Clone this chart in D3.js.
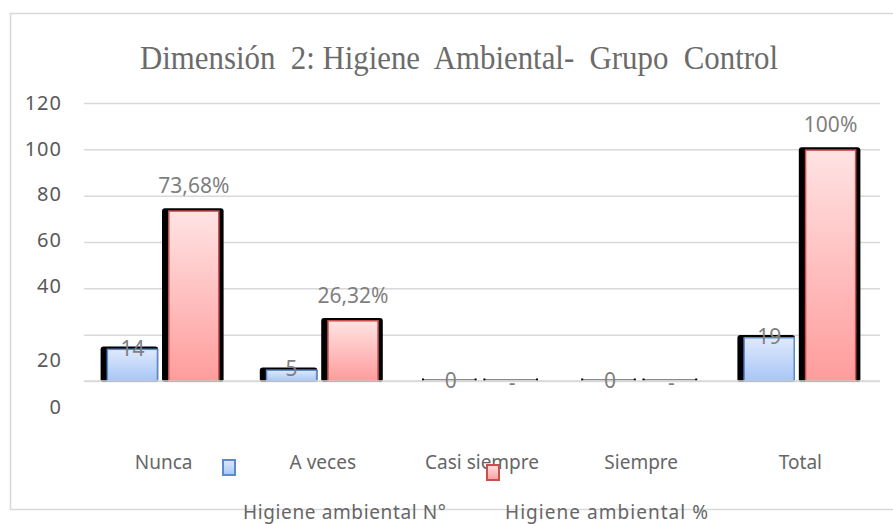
<!DOCTYPE html>
<html>
<head>
<meta charset="utf-8">
<script src="https://cdn.jsdelivr.net/npm/d3@7"></script>
<style>
  body { margin: 0; background: #fff; }
  svg { display: block; }
</style>
</head>
<body>
<svg id="chart" width="893" height="524"></svg>
<script>
// chart values
const categories = ["Nunca", "A veces", "Casi siempre", "Siempre", "Total"];
const countValues = [14, 5, 0, 0, 19];
const percentValues = [73.68, 26.32, 0, 0, 100];
const percentLabels = ["73,68%", "26,32%", "-", "-", "100%"];
const yTicks = [0, 20, 40, 60, 80, 100, 120];
const seriesNames = ["Higiene ambiental N°", "Higiene ambiental %"];

const svg = d3.select("#chart");
const defs = svg.append("defs");

// gradients for the two series
function addGradient(id, top, bottom) {
    const g = defs.append("linearGradient")
        .attr("id", id)
        .attr("x1", 0).attr("y1", 0)
        .attr("x2", 0).attr("y2", 1);
    g.append("stop").attr("offset", "0%").attr("stop-color", top);
    g.append("stop").attr("offset", "100%").attr("stop-color", bottom);
}
addGradient("gradBlue", "#dfe9fc", "#a8c6f6");
addGradient("gradRed", "#ffe3e3", "#ff9c9c");

const seriesStyle = [
    { fill: "url(#gradBlue)", stroke: "#5b8ad0", extra: 0 },
    { fill: "url(#gradRed)", stroke: "#c9504d", extra: 4 }
];

// outer border
svg.append("rect")
    .attr("x", 10.5).attr("y", 13.5)
    .attr("width", 900).attr("height", 496)
    .attr("fill", "none")
    .attr("stroke", "#d9d9d9")
    .attr("stroke-width", 1.5);

// title
svg.append("text")
    .attr("x", 459)
    .attr("y", 69)
    .attr("text-anchor", "middle")
    .attr("font-family", "Liberation Serif, serif")
    .attr("font-size", 34)
    .attr("fill", "#6b6b6b")
    .attr("textLength", 638)
    .attr("lengthAdjust", "spacingAndGlyphs")
    .style("white-space", "pre")
    .text("Dimensión  2: Higiene  Ambiental-  Grupo  Control");

// scales
const x0 = d3.scaleBand().domain(categories).range([84, 880]);
const x1 = d3.scaleBand().domain([0, 1]).range([-57, 56]).paddingInner(0.16);
const y = d3.scaleLinear().domain([0, 120]).range([381, 103]);
// tick labels are drawn a little off their gridlines in the original
const yLabel = d3.scaleLinear().domain([0, 20, 40, 120]).range([407, 360, 286, 103]);

// gridlines
const grid = svg.append("g")
    .attr("transform", "translate(84,0)")
    .call(d3.axisLeft(y).tickValues(yTicks).tickSize(-796).tickFormat(""));
grid.select(".domain").remove();
grid.selectAll(".tick line")
    .attr("stroke", "#d9d9d9")
    .attr("stroke-width", 1.5);

// y tick labels
const yAxis = svg.append("g")
    .attr("transform", "translate(62,0)")
    .call(d3.axisLeft(yLabel).tickValues(yTicks).tickSize(0).tickPadding(0));
yAxis.select(".domain").remove();
yAxis.selectAll("text")
    .attr("font-family", "Noto Sans, sans-serif")
    .attr("font-size", 20)
    .attr("letter-spacing", 1)
    .attr("fill", "#595959");

// bars
const seriesValues = [countValues, percentValues];
seriesValues.forEach((vals, s) => {
    const st = seriesStyle[s];
    const g = svg.append("g");
    vals.forEach((v, i) => {
        const bx = x0(categories[i]) + x0.bandwidth() / 2 + x1(s);
        const bw = x1.bandwidth();
        const top = y(v);
        const h = y(0) - top;
        if (v > 0) {
            // dark shadow behind the bar
            g.append("rect")
                .attr("x", bx - 6)
                .attr("y", top - 2)
                .attr("width", bw + 6 + st.extra)
                .attr("height", h + 3)
                .attr("rx", 3)
                .attr("fill", "#000");
            g.append("rect")
                .attr("x", bx + 0.75)
                .attr("y", top + 0.75)
                .attr("width", bw - 1.5)
                .attr("height", h - 0.75)
                .attr("fill", st.fill)
                .attr("stroke", st.stroke)
                .attr("stroke-width", 1.5);
        } else {
            // flat bar: thin grey line with dark ends
            g.append("rect")
                .attr("x", bx - 3)
                .attr("y", top - 2)
                .attr("width", bw + 3)
                .attr("height", 1.5)
                .attr("fill", "#8c8c8c");
            [bx - 3, bx + bw - 2].forEach(ex => {
                g.append("rect")
                    .attr("x", ex)
                    .attr("y", top - 2.5)
                    .attr("width", 2)
                    .attr("height", 2.5)
                    .attr("fill", "#000");
            });
        }
    });
});

// baseline
svg.append("line")
    .attr("x1", 84).attr("x2", 880)
    .attr("y1", y(0)).attr("y2", y(0))
    .attr("stroke", "#d9d9d9")
    .attr("stroke-width", 1.5);

// data labels
const labelFont = { family: "Noto Sans, sans-serif", size: 21, color: "#7f7f7f" };
countValues.forEach((v, i) => {
    svg.append("text")
        .attr("x", x0(categories[i]) + x0.bandwidth() / 2 + x1(0) + x1.bandwidth() / 2)
        .attr("y", y(v) + 7)
        .attr("text-anchor", "middle")
        .attr("font-family", labelFont.family)
        .attr("font-size", labelFont.size)
        .attr("fill", labelFont.color)
        .text(v);
});
percentValues.forEach((v, i) => {
    svg.append("text")
        .attr("x", x0(categories[i]) + x0.bandwidth() / 2 + x1(1) + x1.bandwidth() / 2)
        .attr("y", v > 0 ? y(v) - 17 : y(v) + 9)
        .attr("text-anchor", "middle")
        .attr("font-family", labelFont.family)
        .attr("font-size", labelFont.size)
        .attr("fill", labelFont.color)
        .text(percentLabels[i]);
});

// category labels
const xAxis = svg.append("g")
    .attr("transform", "translate(0,462)")
    .call(d3.axisBottom(x0).tickSize(0).tickPadding(0));
xAxis.select(".domain").remove();
xAxis.selectAll("text")
    .attr("dy", "0.35em")
    .attr("font-family", "Noto Sans, sans-serif")
    .attr("font-size", 19)
    .attr("fill", "#666666");

// legend: markers sit in the label row, names below the frame
const legendMarks = [{ x: 222, y: 459 }, { x: 486, y: 464 }];
const legendText = [{ x: 243 }, { x: 505 }];
seriesNames.forEach((name, s) => {
    svg.append("rect")
        .attr("x", legendMarks[s].x + 1)
        .attr("y", legendMarks[s].y + 1)
        .attr("width", 12)
        .attr("height", 15)
        .attr("fill", seriesStyle[s].fill)
        .attr("stroke", seriesStyle[s].stroke)
        .attr("stroke-width", 2);
    svg.append("text")
        .attr("x", legendText[s].x)
        .attr("y", 519)
        .attr("font-family", "Noto Sans, sans-serif")
        .attr("font-size", 19)
        .attr("textLength", 203)
        .attr("fill", "#666666")
        .text(name);
});
</script>
</body>
</html>
